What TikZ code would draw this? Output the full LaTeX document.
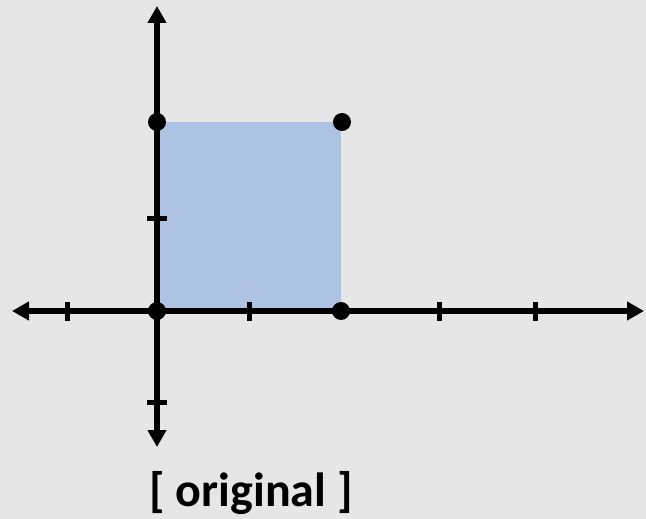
\documentclass[tikz,border=0pt]{standalone}
\usepackage{fontspec}
\setmainfont{Carlito}
\usetikzlibrary{arrows.meta}
\definecolor{bgc}{RGB}{230,230,230}
\definecolor{sq}{RGB}{174,194,228}
\tikzset{
  axis/.style={line width=5.5pt,-{Triangle[length=17pt,width=18pt]}},
  tck/.style={line width=5pt},
  dot/.style={circle,fill=black,inner sep=0pt,minimum size=18pt},
}
\begin{document}
\begin{tikzpicture}[x=1pt,y=-1pt]
\fill[bgc] (0,0) rectangle (646,519);
\useasboundingbox (0,0) rectangle (646,519);
\fill[sq] (157,122) rectangle (341,311);
% axes
\coordinate (xl) at (12,311);
\coordinate (xr) at (644,311);
\coordinate (yt) at (157,6);
\coordinate (yb) at (157,447);
\coordinate (o) at (157,311);
\draw[axis] (o) -- (xl);
\draw[axis] (o) -- (xr);
\draw[axis] (o) -- (yt);
\draw[axis] (o) -- (yb);
% ticks
\foreach \x in {67,249,439,535} \draw[tck] (\x,302) -- (\x,321);
\foreach \y in {218,402} \draw[tck] (147,\y) -- (167,\y);
% dots
\node[dot] (d1) at (157,311) {};
\node[dot] (d2) at (341,311) {};
\node[dot] (d3) at (157,122) {};
\node[dot] (d4) at (342,122) {};
\node[anchor=base,inner sep=0pt,font=\bfseries\fontsize{48}{52}\selectfont] (lbl) at (251,506) {[ original ]};
\end{tikzpicture}
\end{document}
